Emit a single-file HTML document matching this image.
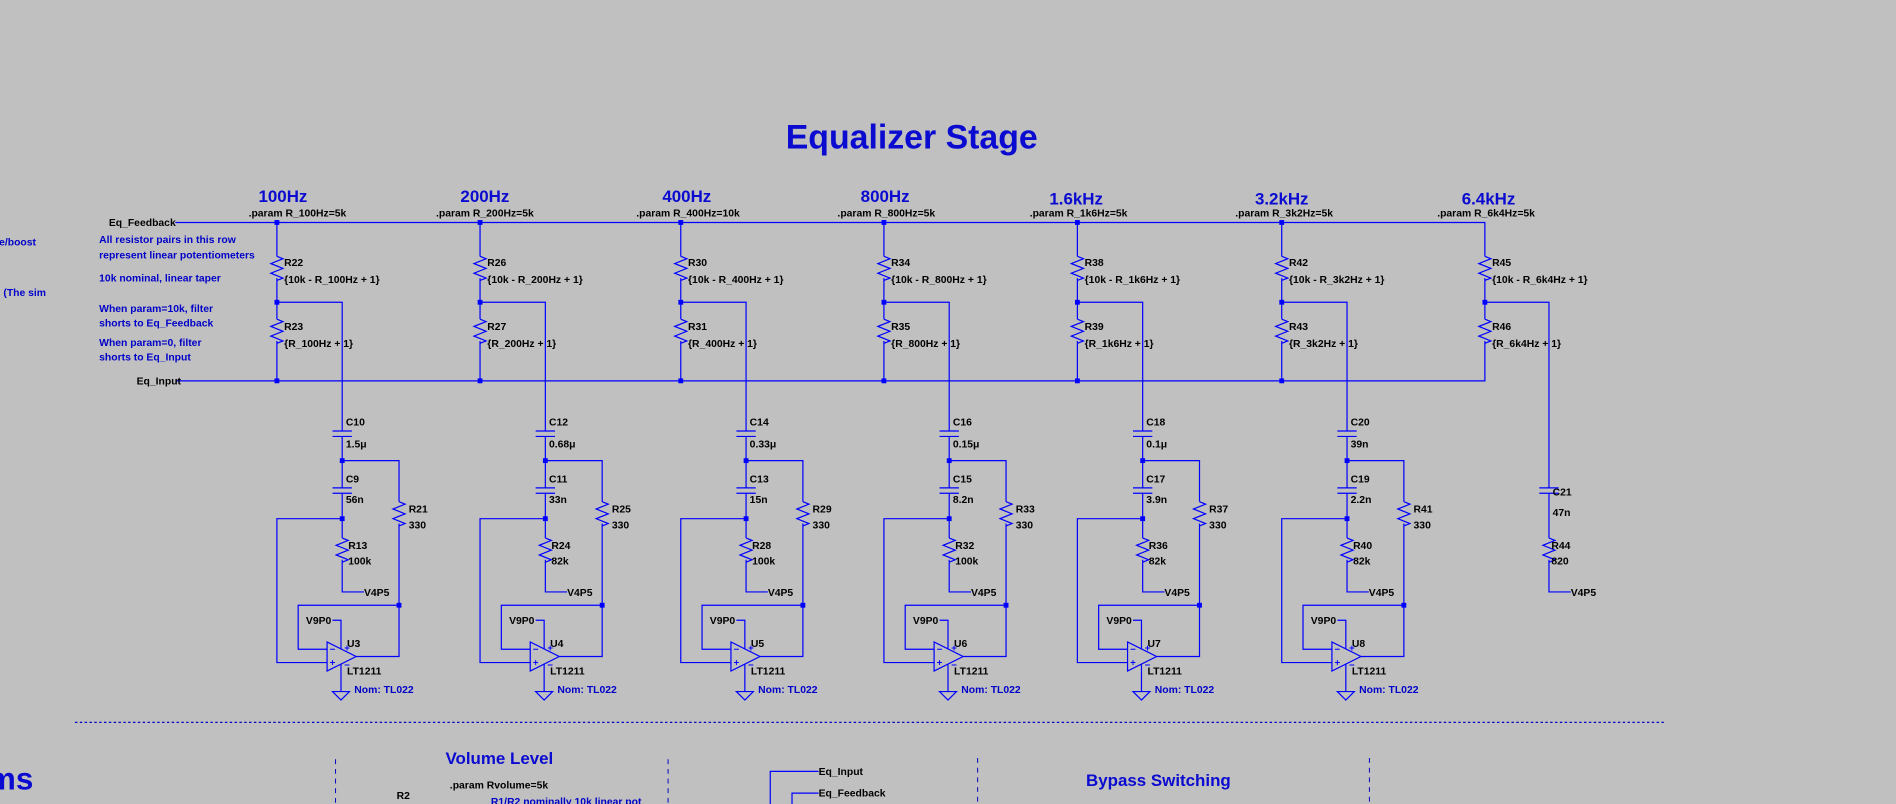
<!DOCTYPE html>
<html><head><meta charset="utf-8"><style>
html,body{margin:0;padding:0;background:#c0c0c0;}
svg{display:block}
text{font-family:"Liberation Sans",sans-serif;font-weight:bold;font-size:8.6px;fill:#000}
.b{fill:#0000c8}
.f{font-size:14px;fill:#0a0ad0}
</style></head><body>
<svg width="1896" height="804" viewBox="0 0 1568 665" preserveAspectRatio="none" xmlns="http://www.w3.org/2000/svg">
<rect width="1568" height="665" fill="#c0c0c0"/>
<defs>
<path id="z" d="M0,0 l5,2 l-10,4 l10,4 l-10,4 l10,4 l-5,2" fill="none" stroke="#0000ff" stroke-width="1"/>
<g id="col" fill="none" stroke="#0000ff" stroke-width="1">
<path d="M0,184V212M0,230V264M0,282V315"/>
<use href="#z" y="212"/><use href="#z" y="264"/>
<path d="M0,250H54V356.5M46,356.5H62M46,361H62M54,361V403.5M46,403.5H62M46,408H62M54,408V445M54,463V489.6H72"/>
<use href="#z" x="54" y="445"/>
<path d="M54,381H101V415M101,433V543H65.5"/>
<use href="#z" x="101" y="415"/>
<path d="M54,429H0V548H41.5M101,500.6H17.6V537H41.5"/>
<path d="M41.5,531V555L65.5,543Z"/>
<path d="M46,513H53V536.7M53,549V572M46,572H60L53,579Z"/>
<path d="M44,537h4M44,548h4M46,546v4M56,536h4M58,534v4M56,550h4" stroke-width="0.8"/>
</g>
<g id="dots" fill="#0000ff"><rect x="-2" y="182" width="4" height="4"/><rect x="-2" y="248" width="4" height="4"/><rect x="-2" y="313" width="4" height="4"/><rect x="52" y="379" width="4" height="4"/><rect x="52" y="427" width="4" height="4"/><rect x="99" y="498.6" width="4" height="4"/></g>
</defs>
<text x="754" y="123" class="f" text-anchor="middle" style="font-size:28px">Equalizer Stage</text>
<g fill="none" stroke="#0000ff" stroke-width="1">
<path d="M145,184H1228V212M1228,230V264M1228,282V315H145"/>
<use href="#z" x="1228" y="212"/><use href="#z" x="1228" y="264"/>
<path d="M1228,250H1281V403.5M1273,403.5H1289M1273,408H1289M1281,408V445M1281,463V489.6H1299"/>
<use href="#z" x="1281" y="445"/>
</g>
<rect x="1226" y="248" width="4" height="4" fill="#0000ff"/>
<use href="#col" x="229"/><use href="#dots" x="229"/>
<use href="#col" x="397"/><use href="#dots" x="397"/>
<use href="#col" x="563"/><use href="#dots" x="563"/>
<use href="#col" x="731"/><use href="#dots" x="731"/>
<use href="#col" x="891"/><use href="#dots" x="891"/>
<use href="#col" x="1060"/><use href="#dots" x="1060"/>
<text x="90" y="187">Eq_Feedback</text>
<text x="113" y="318">Eq_Input</text>
<text x="82" y="201" class="b">All resistor pairs in this row</text>
<text x="82" y="214" class="b">represent linear potentiometers</text>
<text x="82" y="233" class="b">10k nominal, linear taper</text>
<text x="82" y="258" class="b">When param=10k, filter</text>
<text x="82" y="270" class="b">shorts to Eq_Feedback</text>
<text x="82" y="286" class="b">When param=0, filter</text>
<text x="82" y="298" class="b">shorts to Eq_Input</text>
<text x="-6" y="203" class="b">ne/boost</text>
<text x="-2" y="215" class="b">.</text>
<text x="-2" y="245" class="b">. (The sim</text>
<!-- frequency labels -->
<text x="234" y="167" class="f" text-anchor="middle">100Hz</text><text x="246" y="179" text-anchor="middle">.param R_100Hz=5k</text>
<text x="401" y="167" class="f" text-anchor="middle">200Hz</text><text x="401" y="179" text-anchor="middle">.param R_200Hz=5k</text>
<text x="568" y="167" class="f" text-anchor="middle">400Hz</text><text x="569" y="179" text-anchor="middle">.param R_400Hz=10k</text>
<text x="732" y="167" class="f" text-anchor="middle">800Hz</text><text x="733" y="179" text-anchor="middle">.param R_800Hz=5k</text>
<text x="890" y="169" class="f" text-anchor="middle">1.6kHz</text><text x="892" y="179" text-anchor="middle">.param R_1k6Hz=5k</text>
<text x="1060" y="169" class="f" text-anchor="middle">3.2kHz</text><text x="1062" y="179" text-anchor="middle">.param R_3k2Hz=5k</text>
<text x="1231" y="169" class="f" text-anchor="middle">6.4kHz</text><text x="1229" y="179" text-anchor="middle">.param R_6k4Hz=5k</text>
<!-- col1 -->
<g transform="translate(229,0)">
<text x="6" y="220">R22</text><text x="6" y="234">{10k - R_100Hz + 1}</text>
<text x="6" y="273">R23</text><text x="6" y="287">{R_100Hz + 1}</text>
<text x="57" y="352">C10</text><text x="57" y="370">1.5μ</text>
<text x="57" y="399">C9</text><text x="57" y="416">56n</text>
<text x="109" y="424">R21</text><text x="109" y="437">330</text>
<text x="59" y="454">R13</text><text x="59" y="467">100k</text>
<text x="72" y="493">V4P5</text><text x="24" y="516">V9P0</text>
<text x="58" y="535">U3</text><text x="58" y="558">LT1211</text><text x="64" y="573" class="b">Nom: TL022</text>
</g>
<g transform="translate(397,0)">
<text x="6" y="220">R26</text><text x="6" y="234">{10k - R_200Hz + 1}</text>
<text x="6" y="273">R27</text><text x="6" y="287">{R_200Hz + 1}</text>
<text x="57" y="352">C12</text><text x="57" y="370">0.68μ</text>
<text x="57" y="399">C11</text><text x="57" y="416">33n</text>
<text x="109" y="424">R25</text><text x="109" y="437">330</text>
<text x="59" y="454">R24</text><text x="59" y="467">82k</text>
<text x="72" y="493">V4P5</text><text x="24" y="516">V9P0</text>
<text x="58" y="535">U4</text><text x="58" y="558">LT1211</text><text x="64" y="573" class="b">Nom: TL022</text>
</g>
<g transform="translate(563,0)">
<text x="6" y="220">R30</text><text x="6" y="234">{10k - R_400Hz + 1}</text>
<text x="6" y="273">R31</text><text x="6" y="287">{R_400Hz + 1}</text>
<text x="57" y="352">C14</text><text x="57" y="370">0.33μ</text>
<text x="57" y="399">C13</text><text x="57" y="416">15n</text>
<text x="109" y="424">R29</text><text x="109" y="437">330</text>
<text x="59" y="454">R28</text><text x="59" y="467">100k</text>
<text x="72" y="493">V4P5</text><text x="24" y="516">V9P0</text>
<text x="58" y="535">U5</text><text x="58" y="558">LT1211</text><text x="64" y="573" class="b">Nom: TL022</text>
</g>
<g transform="translate(731,0)">
<text x="6" y="220">R34</text><text x="6" y="234">{10k - R_800Hz + 1}</text>
<text x="6" y="273">R35</text><text x="6" y="287">{R_800Hz + 1}</text>
<text x="57" y="352">C16</text><text x="57" y="370">0.15μ</text>
<text x="57" y="399">C15</text><text x="57" y="416">8.2n</text>
<text x="109" y="424">R33</text><text x="109" y="437">330</text>
<text x="59" y="454">R32</text><text x="59" y="467">100k</text>
<text x="72" y="493">V4P5</text><text x="24" y="516">V9P0</text>
<text x="58" y="535">U6</text><text x="58" y="558">LT1211</text><text x="64" y="573" class="b">Nom: TL022</text>
</g>
<g transform="translate(891,0)">
<text x="6" y="220">R38</text><text x="6" y="234">{10k - R_1k6Hz + 1}</text>
<text x="6" y="273">R39</text><text x="6" y="287">{R_1k6Hz + 1}</text>
<text x="57" y="352">C18</text><text x="57" y="370">0.1μ</text>
<text x="57" y="399">C17</text><text x="57" y="416">3.9n</text>
<text x="109" y="424">R37</text><text x="109" y="437">330</text>
<text x="59" y="454">R36</text><text x="59" y="467">82k</text>
<text x="72" y="493">V4P5</text><text x="24" y="516">V9P0</text>
<text x="58" y="535">U7</text><text x="58" y="558">LT1211</text><text x="64" y="573" class="b">Nom: TL022</text>
</g>
<g transform="translate(1060,0)">
<text x="6" y="220">R42</text><text x="6" y="234">{10k - R_3k2Hz + 1}</text>
<text x="6" y="273">R43</text><text x="6" y="287">{R_3k2Hz + 1}</text>
<text x="57" y="352">C20</text><text x="57" y="370">39n</text>
<text x="57" y="399">C19</text><text x="57" y="416">2.2n</text>
<text x="109" y="424">R41</text><text x="109" y="437">330</text>
<text x="59" y="454">R40</text><text x="59" y="467">82k</text>
<text x="72" y="493">V4P5</text><text x="24" y="516">V9P0</text>
<text x="58" y="535">U8</text><text x="58" y="558">LT1211</text><text x="64" y="573" class="b">Nom: TL022</text>
</g>
<g transform="translate(1228,0)">
<text x="6" y="220">R45</text><text x="6" y="234">{10k - R_6k4Hz + 1}</text>
<text x="6" y="273">R46</text><text x="6" y="287">{R_6k4Hz + 1}</text>
<text x="56" y="410">C21</text><text x="56" y="417" dy="0"></text>
<text x="56" y="427">47n</text>
<text x="55" y="454">R44</text><text x="55" y="467">820</text>
<text x="71" y="493">V4P5</text>
</g>
<!-- bottom area -->
<g stroke="#0000c0" stroke-width="1" fill="none" stroke-dasharray="2,2">
<path d="M62,597.5H1378"/>
</g>
<g stroke="#0000c0" stroke-width="0.8" fill="none" stroke-dasharray="4,4">
<path d="M277.5,628V665M552.5,628V665M808.5,627V665M1132.5,627V665"/>
</g>
<text x="-10" y="653" class="f" style="font-size:26px">ms</text>
<text x="413" y="632" class="f" text-anchor="middle">Volume Level</text>
<text x="372" y="652">.param Rvolume=5k</text>
<text x="328" y="661">R2</text>
<text x="406" y="666" class="b">R1/R2 nominally 10k linear pot</text>
<text x="958" y="650" class="f" text-anchor="middle">Bypass Switching</text>
<path d="M637,665V638H677M655,665V656H677" stroke="#0000ff" fill="none"/>
<text x="677" y="641">Eq_Input</text>
<text x="677" y="659">Eq_Feedback</text>
</svg>
</body></html>
